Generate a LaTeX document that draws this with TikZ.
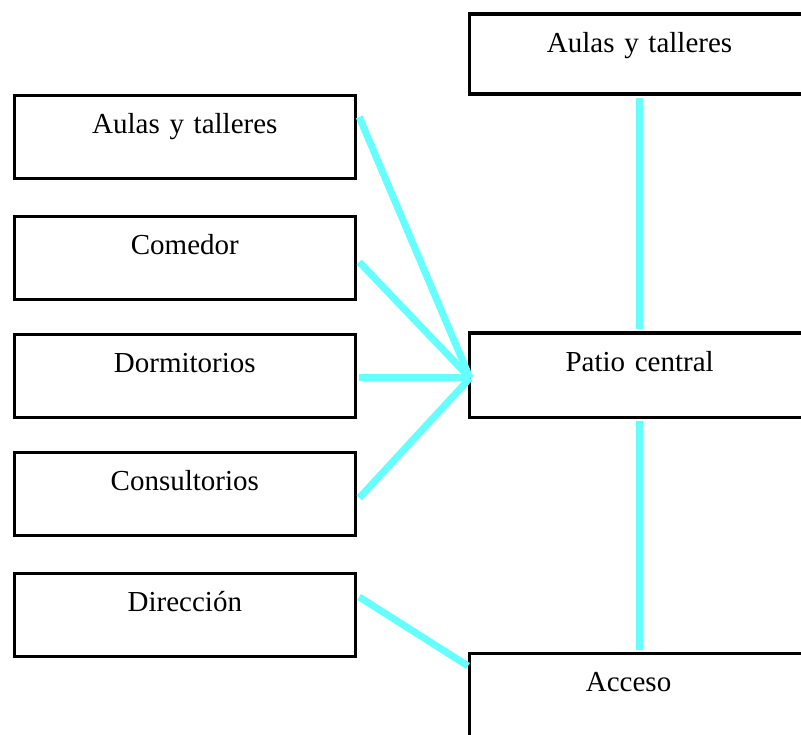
\documentclass[tikz,border=0pt]{standalone}
\usepackage{fontspec}
\setmainfont{Liberation Serif}
\usetikzlibrary{calc}
\definecolor{linkcyan}{RGB}{102,255,255}
\tikzset{
  roombox/.style={draw=black, line width=3.2pt, rectangle, inner sep=0pt,
    anchor=north west, align=center, text height=38pt,
    font=\fontsize{29}{34}\selectfont},
  leftbox/.style={roombox, text width=341.5pt, text depth=45pt},
  rightbox/.style={roombox, text width=340pt},
  link/.style={draw=linkcyan, line width=7pt}
}
\begin{document}
\begin{tikzpicture}[x=1pt,y=-1pt]
\useasboundingbox (0,0) rectangle (801,735);
\clip (0,0) rectangle (801,735);
% left column
\node[leftbox] (l1) at (12.5,94) {Aulas y talleres};
\node[leftbox] (l2) at (12.5,215) {Comedor};
\node[leftbox] (l3) at (12.5,333) {Dormitorios};
\node[leftbox] (l4) at (12.5,451) {Consultorios};
\node[leftbox] (l5) at (12.5,571.5) {Direcci\'on};
% right column
\node[rightbox, text depth=42pt] (r1) at (468,12.5) {Aulas y talleres};
\node[rightbox, text depth=46pt] (patio) at (468,331.5) {Patio central};
\node[rightbox, text depth=46pt] (acc) at (468,652) {\hspace*{-22pt}Acceso};
% connector end points
\coordinate (hub) at ($(patio.north west)+(2,46.5)$);
\coordinate (s1) at ($(l1.north east)+(2,23)$);
\coordinate (s2) at ($(l2.north east)+(2,47)$);
\coordinate (s3) at ($(l3.north east)+(2,45)$);
\coordinate (s4) at ($(l4.north east)+(2,47)$);
\coordinate (s5) at ($(l5.north east)+(2,25.5)$);
\coordinate (accin) at ($(acc.north west)+(0,14)$);
% connectors
\draw[link] (s1) -- (hub);
\draw[link] (s2) -- (hub);
\draw[link] (s3) -- (hub);
\draw[link] (s4) -- (hub);
\draw[link] (s5) -- (accin);
\draw[link] ($(r1.south)+(0,2)$) -- ($(patio.north)+(0,-2)$);
\draw[link] ($(patio.south)+(0,2)$) -- ($(acc.north)+(0,-2)$);
\end{tikzpicture}
\end{document}
